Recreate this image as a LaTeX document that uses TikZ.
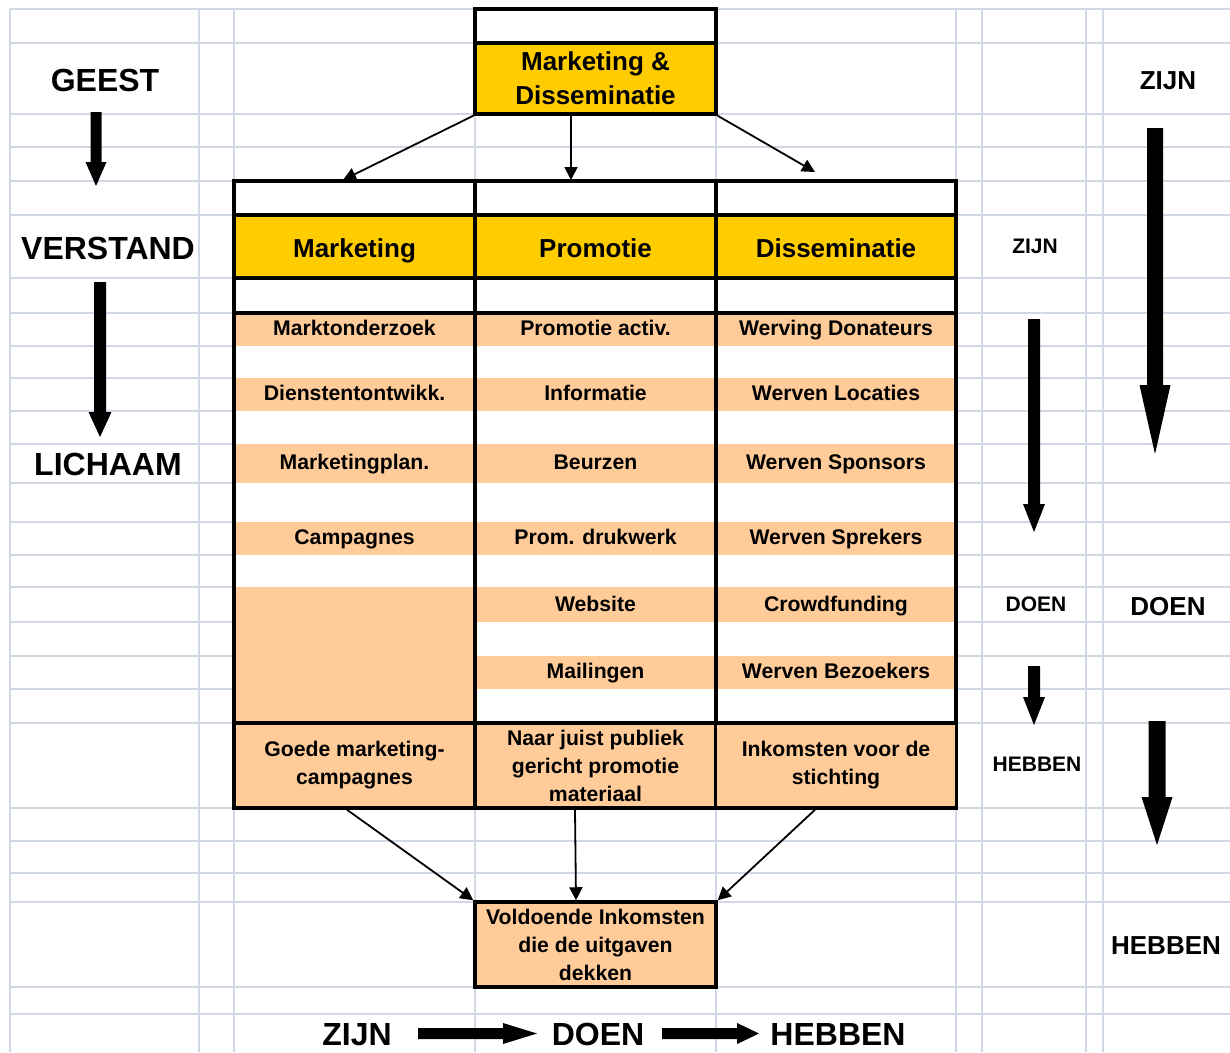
\documentclass[tikz,border=0pt]{standalone}
\usepackage{fontspec}
\setmainfont{Liberation Sans}
\usetikzlibrary{arrows.meta}

\definecolor{gridblue}{HTML}{D0D7E5}
\definecolor{mdyellow}{HTML}{FFCC00}
\definecolor{mdorange}{HTML}{FFCC99}

\tikzset{
    gridline/.style={draw=gridblue, line width=2pt},
    tableline/.style={draw=black, line width=3.5pt},
    thinarrow/.style={draw=black, line width=1.8pt, -{Triangle[length=13pt,width=13pt]}},
    cellbox/.style={draw=black, line width=3.5pt, minimum width=241pt, inner sep=0pt, align=center,
        font=\fontsize{21.2}{28}\selectfont\bfseries},
    bigword/.style={anchor=base, font=\fontsize{32}{38}\selectfont\bfseries},
    midword/.style={anchor=base, font=\fontsize{26}{30}\selectfont\bfseries},
    smallword/.style={anchor=base, font=\fontsize{21}{25}\selectfont\bfseries},
    itemword/.style={anchor=base, font=\fontsize{21.2}{25}\selectfont\bfseries}
}

\begin{document}
\begin{tikzpicture}[x=1pt, y=-1pt]
    \useasboundingbox (0,0) rectangle (1230,1052);
    % sheet grid
    \foreach \y in {9,43,114,147,181,215,278,313,346,378,411,444,483,522,555,587,622,656,689,723,808,841,873,902,987,1014}
        \draw[gridline] (10,\y) -- (1230,\y);
    \foreach \x in {10,199,234,475,716,956,982,1086,1103}
        \draw[gridline] (\x,9) -- (\x,1052);

    % table cells
    \fill[white] (234,181) rectangle (956,808);
    \fill[mdyellow] (234,215) rectangle (956,278);
    \foreach \ya/\yb in {313/346,378/411,444/483,522/555,587/622,656/689}
        \fill[mdorange] (234,\ya) rectangle (956,\yb);
    \fill[mdorange] (234,587) rectangle (475,723);
    \draw[tableline] (234,181) rectangle (956,808);
    \foreach \y in {215,278,313,723}
        \draw[tableline] (234,\y) -- (956,\y);
    \foreach \x in {475,716}
        \draw[tableline] (\x,181) -- (\x,808);

    % top box
    \fill[white] (475,9) rectangle (716,43);
    \draw[tableline] (475,9) rectangle (716,43);
    \node[cellbox, fill=mdyellow, minimum height=71pt, font=\fontsize{26}{34}\selectfont\bfseries] (md) at (595.5,78.5) {Marketing \&\\Disseminatie};

    % headers
    \node[midword] (hmkt) at (354.5,257) {Marketing};
    \node[midword] (hprom) at (595.5,257) {Promotie};
    \node[midword] (hdiss) at (836,257) {Disseminatie};

    % activities
    \foreach \yb/\txt [count=\i] in {335.5/Marktonderzoek, 400.5/Dienstentontwikk., 469.5/Marketingplan., 544.5/Campagnes}
        \node[itemword] (mkt\i) at (354.5,\yb) {\txt};
    \foreach \yb/\ta/\tb [count=\i] in {335.5/Promotie activ./Werving Donateurs, 400.5/Informatie/Werven Locaties,
        469.5/Beurzen/Werven Sponsors, 544.5/Prom. drukwerk/Werven Sprekers,
        611/Website/Crowdfunding, 678.5/Mailingen/Werven Bezoekers}
    {
        \node[itemword] (prom\i) at (595.5,\yb) {\ta};
        \node[itemword] (diss\i) at (836,\yb) {\tb};
    }

    % results
    \node[cellbox, fill=mdorange, minimum height=85pt] (rmkt) at (354.5,765.5) {Goede marketing-\\campagnes};
    \node[cellbox, fill=mdorange, minimum height=85pt] (rprom) at (595.5,765.5) {Naar juist publiek\\gericht promotie\\materiaal};
    \node[cellbox, fill=mdorange, minimum height=85pt] (rdiss) at (836,765.5) {Inkomsten voor de\\stichting};
    \node[cellbox, fill=mdorange, minimum height=85pt] (total) at (595.5,944.5) {Voldoende Inkomsten\\die de uitgaven\\dekken};

    % connectors
    \coordinate (tmkt) at (343,180);
    \coordinate (tprom) at (571,180);
    \coordinate (tdiss) at (815,172);
    \draw[thinarrow] (md.south west) -- (tmkt);
    \draw[thinarrow] ([xshift=-24.5pt]md.south) -- (tprom);
    \draw[thinarrow] (md.south east) -- (tdiss);
    \draw[thinarrow] ([xshift=-7.5pt]rmkt.south) -- (total.north west);
    \draw[thinarrow] ([xshift=-20.5pt]rprom.south) -- ([xshift=-19.5pt]total.north);
    \draw[thinarrow] ([xshift=-21pt]rdiss.south) -- (total.north east);

    % side words
    \node[bigword] (geest) at (105,91.5) {GEEST};
    \node[bigword] (verstand) at (108,259) {VERSTAND};
    \node[bigword] (lichaam) at (108,475) {LICHAAM};
    \node[midword] (zijnr) at (1168,89) {ZIJN};
    \node[smallword] (zijnm) at (1035,253) {ZIJN};
    \node[smallword] (doenm) at (1036,611) {DOEN};
    \node[midword] (doenr) at (1168,615) {DOEN};
    \node[smallword] (hebbenm) at (1037,771) {HEBBEN};
    \node[midword] (hebbenr) at (1166,954) {HEBBEN};
    \node[bigword] (zijnb) at (357,1045) {ZIJN};
    \node[bigword] (doenb) at (598,1045) {DOEN};
    \node[bigword] (hebbenb) at (838,1045) {HEBBEN};

    % block arrows
    \foreach \x/\ya/\yb/\yc/\s/\h in {96/112/162/186/5.5/10.5, 100/282/412/437/6/11.5,
        1034/319/504/532/6/11, 1034/666/697/725/6/11, 1155/128/385/454/8/15.5, 1157/721/797/845/8.5/15.5}
        \fill (\x-\s,\ya) -- (\x+\s,\ya) -- (\x+\s,\yb) -- (\x+\h,\yb) -- (\x,\yc)
            -- (\x-\h,\yb) -- (\x-\s,\yb) -- cycle;
    \foreach \xa/\xb/\xc in {418/503/537, 662/737/759}
        \fill (\xa,1028) -- (\xb,1028) -- (\xb,1023) -- (\xc,1033.5) -- (\xb,1044)
            -- (\xb,1039) -- (\xa,1039) -- cycle;
\end{tikzpicture}
\end{document}
